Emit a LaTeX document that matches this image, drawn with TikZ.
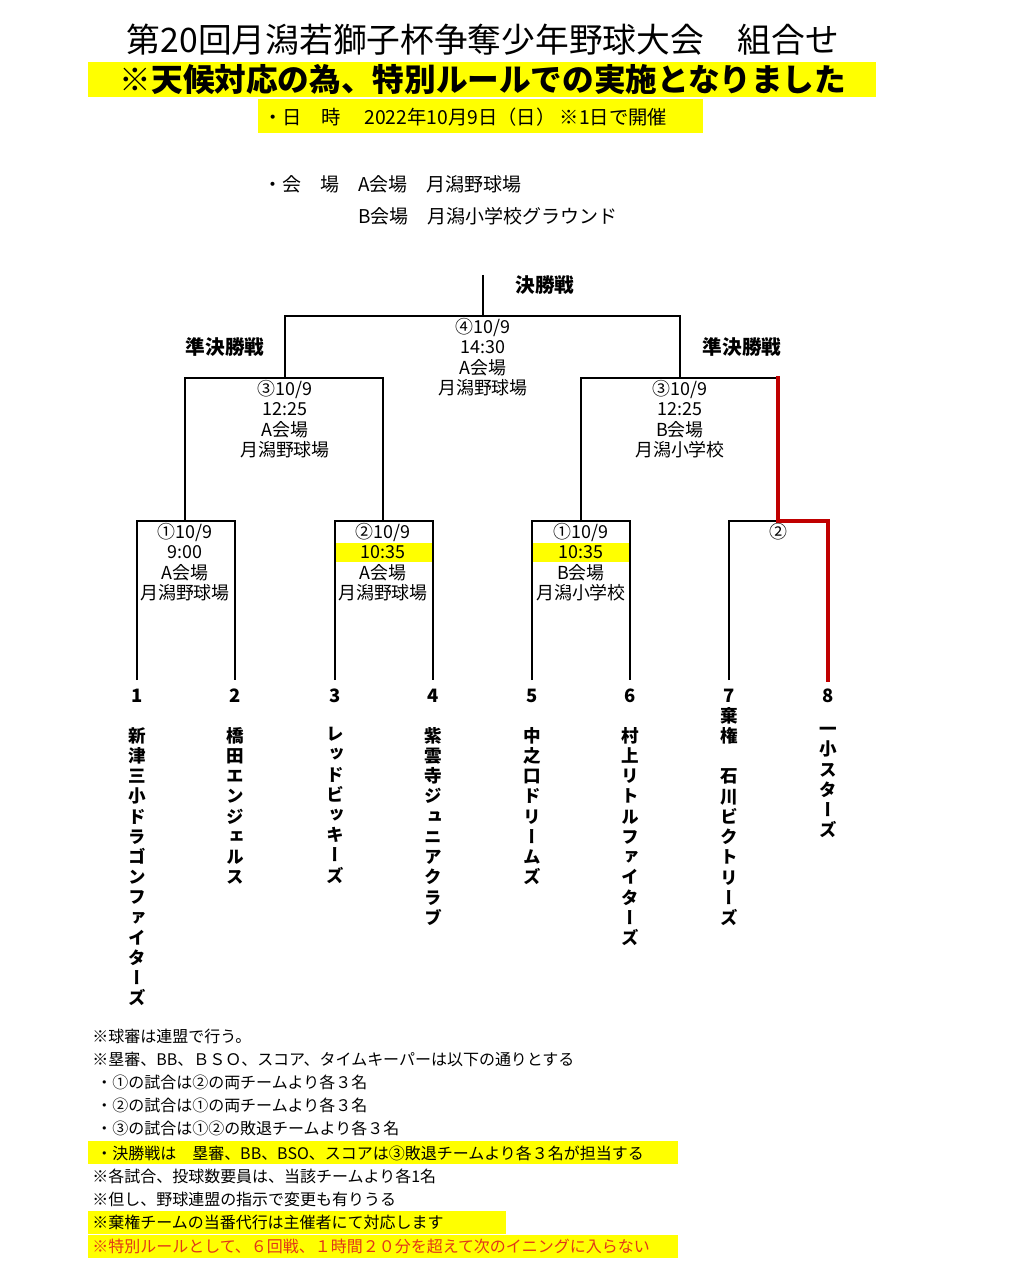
\documentclass[tikz,border=0pt]{standalone}
\usepackage{fontspec}
\setmainfont{Noto Sans CJK JP}
\newfontfamily\tatefont[RawFeature=+vert]{Noto Sans CJK JP}
\usepackage{xcolor}

\definecolor{hiyellow}{RGB}{255,255,0}
\definecolor{winred}{RGB}{192,0,0}
\definecolor{notered}{RGB}{225,55,25}

\makeatletter
\newcommand\tate[1]{\@tfor\tatech:=#1\do{\tatech\\}}
\makeatother

\begin{document}
\begin{tikzpicture}[x=0.02cm,y=-0.02cm,
	bline/.style={line width=1.6pt},
	rline/.style={line width=2.2pt,draw=winred,line cap=rect},
	lbl/.style={font=\fontsize{10.2}{11.6}\selectfont,align=center,inner sep=1pt,anchor=north},
	head/.style={font=\bfseries\fontsize{11.2}{13}\selectfont,inner sep=0pt},
	team/.style={font=\tatefont\bfseries\fontsize{10}{11.5}\selectfont,align=center,inner sep=0pt,anchor=north},
	num/.style={font=\bfseries\fontsize{10.5}{12}\selectfont,inner sep=0pt},
	note/.style={font=\fontsize{9.1}{10}\selectfont,anchor=west,inner sep=0pt}]

	\useasboundingbox[fill=white] (0,0) rectangle (1009,1280);

	% heading
	\fill[hiyellow] (88,62) rectangle (876,97);
	\fill[hiyellow] (258,99) rectangle (703,133);
	\node[font=\fontsize{19.2}{21}\selectfont,inner sep=0pt] (title) at (483,40) {第20回月潟若獅子杯争奪少年野球大会　組合せ};
	\node[font=\bfseries\fontsize{18}{20}\selectfont,inner sep=0pt] (notice) at (483,80) {※天候対応の為、特別ルールでの実施となりました};
	\node[font=\fontsize{11}{13}\selectfont,inner sep=0pt,anchor=west] (date) at (263,117) {・日　時　 2022年10月9日（日） ※1日で開催};
	\node[font=\fontsize{10.8}{13}\selectfont,inner sep=0pt,anchor=west] (venue) at (263,184) {・会　場};
	\node[font=\fontsize{10.8}{13}\selectfont,inner sep=0pt,anchor=west] (va) at (358,184) {A会場　月潟野球場};
	\node[font=\fontsize{10.8}{13}\selectfont,inner sep=0pt,anchor=west] (vb) at (358,216) {B会場　月潟小学校グラウンド};

	% bracket points
	\coordinate (top) at (483,275);
	\coordinate (fin) at (483,316);
	\coordinate (sL) at (285,378);
	\coordinate (sR) at (680,378);
	\coordinate (m1) at (185,521);
	\coordinate (m2) at (383,521);
	\coordinate (m3) at (581,521);
	\coordinate (m4) at (778,521);
	\foreach \i/\x in {1/137,2/235,3/335,4/433,5/532,6/630,7/729,8/828}
		\coordinate (p\i) at (\x,680);

	% yellow times
	\fill[hiyellow] (335,543) rectangle (433,562);
	\fill[hiyellow] (532,543) rectangle (630,562);

	\draw[bline] (top) -- (fin);
	\draw[bline] (sL) |- (fin) -| (sR);
	\draw[bline] (m1) |- (sL) -| (m2);
	\draw[bline] (m3) |- (sR) -- (sR -| m4);
	\draw[rline] (sR -| m4) -- (m4);
	\draw[bline] (p1) |- (m1) -| (p2);
	\draw[bline] (p3) |- (m2) -| (p4);
	\draw[bline] (p5) |- (m3) -| (p6);
	\draw[bline] (p7) |- (m4);
	\draw[rline] (m4) -| (p8);

	\node[head] (hf) at (545,285) {決勝戦};
	\node[head] (hl) at (225,347) {準決勝戦};
	\node[head] (hr) at (742,347) {準決勝戦};

	\node[lbl] (lf) at (fin) {④10/9\\14:30\\A会場\\月潟野球場};
	\node[lbl] (lsl) at (sL) {③10/9\\12:25\\A会場\\月潟野球場};
	\node[lbl] (lsr) at (sR) {③10/9\\12:25\\B会場\\月潟小学校};
	\node[lbl] (l1) at (m1) {①10/9\\9:00\\A会場\\月潟野球場};
	\node[lbl] (l2) at (m2) {②10/9\\10:35\\A会場\\月潟野球場};
	\node[lbl] (l3) at (m3) {①10/9\\10:35\\B会場\\月潟小学校};
	\node[lbl] (l4) at (m4) {②};

	% team numbers and names
	\foreach \i/\x in {1/137,2/235,3/335,4/433,5/532,6/630,7/729,8/828}
		\node[num] (n\i) at (\x,696) {\i};

	\node[team] (t1) at (137,727) {\tate{新津三小ドラゴンファイターズ}};
	\node[team] (t2) at (235,727) {\tate{橋田エンジェルス}};
	\node[team] (t3) at (335,727) {\tate{レッドビッキーズ}};
	\node[team] (t4) at (433,727) {\tate{紫雲寺ジュニアクラブ}};
	\node[team] (t5) at (532,727) {\tate{中之口ドリームズ}};
	\node[team] (t6) at (630,727) {\tate{村上リトルファイターズ}};
	\node[team] (t7) at (729,707) {\tate{棄権　石川ビクトリーズ}};
	\node[team] (t8) at (828,727) {\tate{一小スターズ}};

	% notes
	\fill[hiyellow] (88,1141) rectangle (678,1164);
	\fill[hiyellow] (88,1211) rectangle (506,1234);
	\fill[hiyellow] (88,1235) rectangle (678,1258);
	\node[note] (nt1) at (92,1036) {※球審は連盟で行う。};
	\node[note] (nt2) at (92,1059) {※塁審、BB、ＢＳＯ、スコア、タイムキーパーは以下の通りとする};
	\node[note] (nt3) at (96,1082) {・①の試合は②の両チームより各３名};
	\node[note] (nt4) at (96,1105) {・②の試合は①の両チームより各３名};
	\node[note] (nt5) at (96,1128) {・③の試合は①②の敗退チームより各３名};
	\node[note] (nt6) at (96,1153) {・決勝戦は　塁審、BB、BSO、スコアは③敗退チームより各３名が担当する};
	\node[note] (nt7) at (92,1176) {※各試合、投球数要員は、当該チームより各1名};
	\node[note] (nt8) at (92,1199) {※但し、野球連盟の指示で変更も有りうる};
	\node[note] (nt9) at (92,1222) {※棄権チームの当番代行は主催者にて対応します};
	\node[note,text=notered] (nt10) at (92,1246) {※特別ルールとして、６回戦、１時間２０分を超えて次のイニングに入らない};
\end{tikzpicture}
\end{document}
